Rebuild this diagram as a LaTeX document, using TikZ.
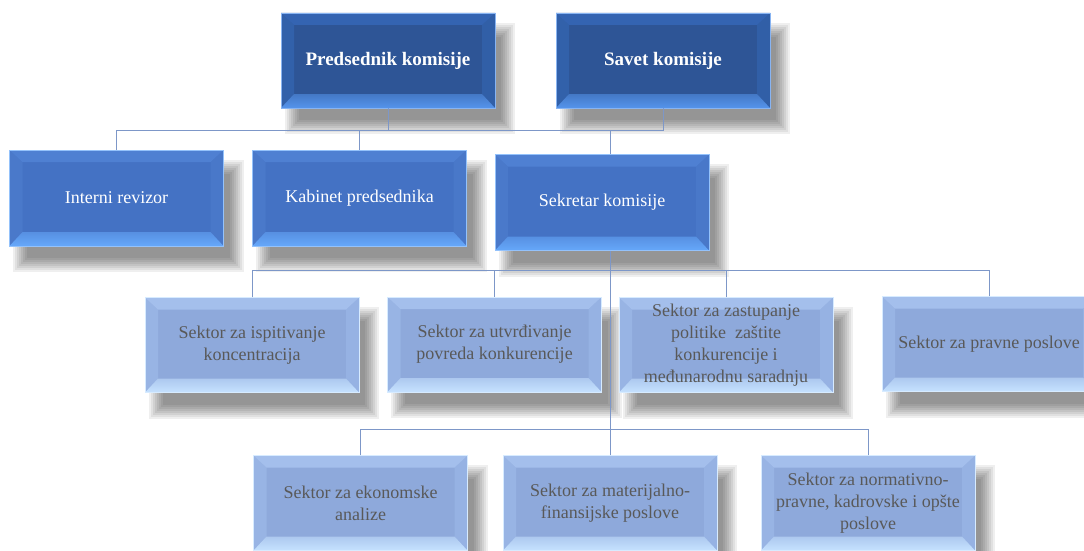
\documentclass[tikz,border=0pt]{standalone}
\usepackage{fontspec}
\setmainfont{Liberation Serif}
\newfontfamily\orgserif{Liberation Serif}

% palette
\definecolor{darkMid}{HTML}{2E5596}
\definecolor{darkTop}{HTML}{3464B2}
\definecolor{darkSide}{HTML}{3261AA}
\definecolor{darkBot}{HTML}{5594EC}
\definecolor{midMid}{HTML}{4472C4}
\definecolor{midTop}{HTML}{4F80D2}
\definecolor{midSide}{HTML}{4A79CA}
\definecolor{midBot}{HTML}{66A8FA}
\definecolor{lightMid}{HTML}{8EA9DB}
\definecolor{lightTop}{HTML}{A4BFEC}
\definecolor{lightSide}{HTML}{98B4E4}
\definecolor{lightBot}{HTML}{C6E2FF}
\definecolor{lineBlue}{HTML}{7D97C8}
\definecolor{textGrey}{HTML}{595959}

\pgfdeclarelayer{shadowlayer}
\pgfsetlayers{shadowlayer,main}

\tikzset{
  % rectangle with a bevelled rim: #1 face, #2 top rim, #3 side rims, #4 bottom rim
  bevel/.style n args={4}{
    rectangle, fill=#1, draw=#4!70!white, line width=0.4pt,
    minimum width=214pt, minimum height=95pt, inner sep=0pt, align=center,
    path picture={
      \path (path picture bounding box.north west) coordinate (bNW)
            (path picture bounding box.north east) coordinate (bNE)
            (path picture bounding box.south west) coordinate (bSW)
            (path picture bounding box.south east) coordinate (bSE)
            ([xshift=13pt,yshift=-12pt]path picture bounding box.north west) coordinate (iNW)
            ([xshift=-13pt,yshift=-12pt]path picture bounding box.north east) coordinate (iNE)
            ([xshift=13pt,yshift=14pt]path picture bounding box.south west) coordinate (iSW)
            ([xshift=-13pt,yshift=14pt]path picture bounding box.south east) coordinate (iSE);
      \fill[#3] (bNW) -- (bSW) -- (iSW) -- (iNW) -- cycle;
      \fill[#3!85!#1] (bNE) -- (bSE) -- (iSE) -- (iNE) -- cycle;
      \fill[#2] (bNW) -- (bNE) -- (iNE) -- (iNW) -- cycle;
      \shade[top color=#4!55!#1, bottom color=#4] (bSW) -- (bSE) -- (iSE) -- (iSW) -- cycle;
    }
  },
  headbox/.style={bevel={darkMid}{darkTop}{darkSide}{darkBot},
    text=white, font=\orgserif\fontsize{19}{23}\selectfont\bfseries},
  staffbox/.style={bevel={midMid}{midTop}{midSide}{midBot},
    minimum height=96pt, text=white, font=\orgserif\fontsize{18}{22}\selectfont},
  sectorbox/.style={bevel={lightMid}{lightTop}{lightSide}{lightBot},
    text=textGrey, font=\orgserif\fontsize{18}{22}\selectfont},
  conn/.style={draw=lineBlue, line width=0.9pt},
  softshade/.style={fill=black, opacity=0.062},
}

\begin{document}
\begin{tikzpicture}[x=1pt, y=-1pt]
  \useasboundingbox (0,0) rectangle (1084,551);
  \path[clip] (0,0) rectangle (1084,551);

  % leadership
  \node[headbox] (p) at (388,60.5) {Predsednik komisije};
  \node[headbox] (s) at (663,60.5) {Savet komisije};

  % units attached to the president
  \node[staffbox] (ir) at (116.5,198) {Interni revizor};
  \node[staffbox] (kb) at (359.5,198) {Kabinet predsednika};
  \node[staffbox] (sk) at (602,202.5) {Sekretar komisije};

  % sectors, first row
  \node[sectorbox] (r3a) at (252,345) {Sektor za ispitivanje\\koncentracija};
  \node[sectorbox] (r3b) at (494.5,344.5) {Sektor za utvrđivanje\\povreda konkurencije};
  \node[sectorbox] (r3c) at (726,345) {Sektor za zastupanje\\politike\ \ zaštite\\konkurencije i\\međunarodnu saradnju};
  \node[sectorbox] (r3d) at (989,344) {Sektor za pravne poslove};

  % sectors, second row
  \node[sectorbox] (r4a) at (360.5,503) {Sektor za ekonomske\\analize};
  \node[sectorbox] (r4b) at (610,503) {Sektor za materijalno-\\finansijske poslove};
  \node[sectorbox] (r4c) at (868,503) {Sektor za normativno-\\pravne, kadrovske i opšte\\poslove};

  % soft drop shadows behind every box
  \begin{pgfonlayer}{shadowlayer}
    \fill[white] (0,0) rectangle (1084,551);
    \foreach \n in {p,s,ir,kb,sk,r3a,r3b,r3c,r3d,r4a,r4b,r4c}{
      \foreach \k in {0,...,7}{
        \fill[softshade]
          ([xshift={4pt+2pt*\k}, yshift={-10pt-2pt*\k}]\n.north west)
          rectangle
          ([xshift={20pt-2pt*\k}, yshift={-26pt+2pt*\k}]\n.south east);
      }
    }
  \end{pgfonlayer}

  % bus junctions
  \coordinate (bus1) at (610,130);
  \coordinate (bus2) at (610,270);
  \coordinate (bus3) at (610,429);

  % connectors
  \draw[conn] (p.south) |- (bus1);
  \draw[conn] (s.south) |- (bus1);
  \draw[conn] (ir.north) |- (bus1);
  \draw[conn] (kb.north) |- (bus1);
  \draw[conn] (sk.north -| bus1) -- (bus1);
  \draw[conn] (sk.south -| bus1) -- (bus3);
  \draw[conn] (r3a.north) |- (bus2);
  \draw[conn] (r3b.north) |- (bus2);
  \draw[conn] (r3c.north) |- (bus2);
  \draw[conn] (r3d.north) |- (bus2);
  \draw[conn] (r4a.north) |- (bus3);
  \draw[conn] (r4b.north) -- (bus3);
  \draw[conn] (r4c.north) |- (bus3);
\end{tikzpicture}
\end{document}
